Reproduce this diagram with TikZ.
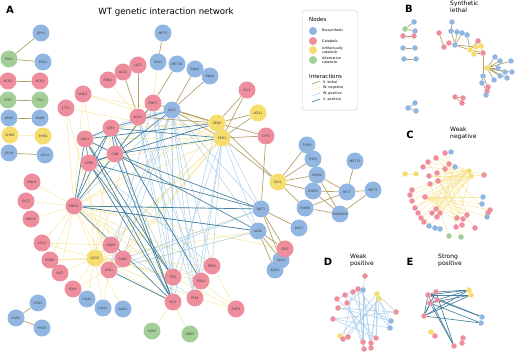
\documentclass[tikz,border=0pt]{standalone}
\usepackage{fontspec}
\setmainfont{DejaVu Sans}
\usetikzlibrary{backgrounds}

\definecolor{bioblue}{RGB}{146,182,226}
\definecolor{catred}{RGB}{238,142,156}
\definecolor{artyellow}{RGB}{246,221,110}
\definecolor{altgreen}{RGB}{164,206,152}
\definecolor{lethalc}{RGB}{172,152,92}
\definecolor{wnegc}{RGB}{246,226,140}
\definecolor{wposc}{RGB}{160,200,232}
\definecolor{sposc}{RGB}{48,112,146}

\tikzset{
  gene/.style={circle,inner sep=0pt,minimum size=17pt,text=black!75,
               font=\fontsize{3.2}{3.2}\selectfont},
  bio/.style={gene,fill=bioblue},
  cat/.style={gene,fill=catred},
  art/.style={gene,fill=artyellow},
  alt/.style={gene,fill=altgreen},
  dot/.style={circle,inner sep=0pt,minimum size=5.5pt},
  bdot/.style={dot,fill=bioblue},
  rdot/.style={dot,fill=catred},
  ydot/.style={dot,fill=artyellow},
  gdot/.style={dot,fill=altgreen},
  slethal/.style={draw=lethalc,line width=0.7pt,draw opacity=0.9},
  wneg/.style={draw=wnegc,line width=0.5pt,draw opacity=0.85},
  wpos/.style={draw=wposc,line width=0.5pt,draw opacity=0.85},
  spos/.style={draw=sposc,line width=0.7pt,draw opacity=0.85},
  panel/.style={font=\fontsize{10}{10}\selectfont\bfseries},
  subtitle/.style={anchor=north west,align=left,inner sep=0pt,
                   font=\fontsize{6}{7}\selectfont},
  legtext/.style={anchor=west,align=left,inner sep=0pt,
                  font=\fontsize{3.4}{3.8}\selectfont},
  legtitle/.style={anchor=west,inner sep=0pt,font=\fontsize{5.5}{5.5}\selectfont}
}

\begin{document}
\begin{tikzpicture}[x=1pt,y=-1pt]
\useasboundingbox (0,0) rectangle (520,352);

% panel A
\node[panel] (labA) at (10,10) {A};
\node[font=\fontsize{8.6}{8.6}\selectfont] (title) at (166,12) {WT genetic interaction network};

% biosynthetic
\node[bio] (ATH1) at (41,33) {ATH1};
\node[bio] (PSD2) at (43,62) {PSD2};
\node[bio] (ARO9) at (9,118) {ARO9};
\node[bio] (ARO8) at (40,118) {ARO8};
\node[bio] (LEU9) at (9,153) {LEU9};
\node[bio] (LEU4) at (45,155) {LEU4};
\node[bio] (MET5) at (163,33) {MET5};
\node[bio] (APA1) at (158,62) {APA1};
\node[bio] (MET10) at (177,64) {MET10};
\node[bio] (BNA2) at (195,69) {BNA2};
\node[bio] (BNA4) at (210,76) {BNA4};
\node[bio] (ALT2) at (172,110) {ALT2};
\node[bio] (THR4) at (307,145) {THR4};
\node[bio] (THR1) at (313,159) {THR1};
\node[bio] (HOM2) at (317,175) {HOM2};
\node[bio] (HOM3) at (313,191) {HOM3};
\node[bio] (HOM6) at (305,208) {HOM6};
\node[bio] (MET17) at (355,161) {MET17};
\node[bio] (IRC7) at (347,192) {IRC7};
\node[bio] (YML) at (340,214) {YML082W};
\node[bio] (MET3) at (373,190) {MET3};
\node[bio] (BAT1) at (261,209) {BAT1};
\node[bio] (ALD6) at (258,231) {ALD6};
\node[bio] (BAT2) at (299,228) {BAT2};
\node[bio] (ALD4) at (281,260) {ALD4};
\node[bio] (ADH2) at (275,270) {ADH2};
\node[bio] (UGA2) at (87,299) {UGA2};
\node[bio] (UGA1) at (103,308) {UGA1};
\node[bio] (GAD1) at (123,309) {GAD1};
\node[bio] (PRO2) at (38,303) {PRO2};
\node[bio] (CAR2) at (16,318) {CAR2};
\node[bio] (PRO3) at (42,328) {PRO3};

% catabolic
\node[cat] (ACO2) at (8,81) {ACO2};
\node[cat] (ACO1) at (40,81) {ACO1};
\node[cat] (MAE1) at (83,94) {MAE1};
\node[cat] (CTT1) at (66,108) {CTT1};
\node[cat] (PDB1) at (108,80) {PDB1};
\node[cat] (ACS2) at (123,72) {ACS2};
\node[cat] (LAT1) at (138,65) {LAT1};
\node[cat] (PMP1) at (153,103) {PMP1};
\node[cat] (ACH1) at (138,117) {ACH1};
\node[cat] (ICL1) at (247,90) {ICL1};
\node[cat] (CYP1) at (266,136) {CYP1};
\node[cat] (COX) at (85,139) {COX1};
\node[cat] (IDP1) at (111,128) {IDP1};
\node[cat] (COB) at (115,154) {COB};
\node[cat] (ATP6) at (89,163) {ATP6};
\node[cat] (MDH1) at (32,182) {MDH1};
\node[cat] (DIC1) at (26,201) {DIC1};
\node[cat] (MDH2) at (31,219) {MDH2};
\node[cat] (MRH1) at (74,206) {MRH1};
\node[cat] (LSC2) at (42,243) {LSC2};
\node[cat] (PGM2) at (50,260) {PGM2};
\node[cat] (YAT1) at (60,273) {YAT1};
\node[cat] (IDH1) at (73,289) {IDH1};
\node[cat] (SDH3) at (111,245) {SDH3};
\node[cat] (FUM1) at (123,259) {FUM1};
\node[cat] (LPD1) at (109,270) {LPD1};
\node[cat] (PGI1) at (173,302) {PGI1};
\node[cat] (TPI1) at (173,277) {TPI1};
\node[cat] (FBA1) at (201,281) {FBA1};
\node[cat] (PFK1) at (195,298) {PFK1};
\node[cat] (RPE1) at (212,266) {RPE1};
\node[cat] (ZWF1) at (236,309) {ZWF1};
\node[cat] (IDP2) at (285,249) {IDP2};

% artifactually catabolic
\node[art] (SHM2) at (10,135) {SHM2};
\node[art] (SHM1) at (43,136) {SHM1};
\node[art] (AGX1) at (258,113) {AGX1};
\node[art] (SER2) at (217,123) {SER2};
\node[art] (SER1) at (222,138) {SER1};
\node[art] (GLY1) at (278,182) {GLY1};
\node[art] (GCV3) at (95,258) {GCV3};

% alternative catabolic
\node[alt] (PSD1) at (9,59) {PSD1};
\node[alt] (TPS3) at (8,100) {TPS3};
\node[alt] (TSL1) at (40,100) {TSL1};
\node[alt] (SOR1) at (152,331) {SOR1};
\node[alt] (GRE3) at (190,334) {GRE3};

% legend
\node[draw=gray!45,rounded corners=3pt,minimum width=55pt,minimum height=100pt,
      anchor=north west] (legbox) at (302,10) {};
\node[legtitle] (legnodes) at (309,19) {Nodes};
\node[bio,minimum size=8pt] (legbio) at (313,31) {};
\node[cat,minimum size=8pt] (legcat) at (313,41) {};
\node[art,minimum size=8pt] (legart) at (313,50) {};
\node[alt,minimum size=8pt] (legalt) at (313,60) {};
\node[legtext] (txtbio) at (322,31) {Biosynthetic};
\node[legtext] (txtcat) at (322,41) {Catabolic};
\node[legtext] (txtart) at (322,50) {Artifactually\\catabolic};
\node[legtext] (txtalt) at (322,60) {Alternative\\catabolic};
\node[legtitle] (leginter) at (309,76) {Interactions};
\coordinate (l1a) at (312,84); \coordinate (l1b) at (320,81);
\coordinate (l2a) at (312,90); \coordinate (l2b) at (320,87);
\coordinate (l3a) at (312,96); \coordinate (l3b) at (320,93);
\coordinate (l4a) at (312,102); \coordinate (l4b) at (320,99);
\draw[slethal] (l1a) -- (l1b);
\draw[wneg] (l2a) -- (l2b);
\draw[wpos] (l3a) -- (l3b);
\draw[spos] (l4a) -- (l4b);
\node[legtext] (txtsl) at (323,82) {S. lethal};
\node[legtext] (txtwn) at (323,88) {W. negative};
\node[legtext] (txtwp) at (323,94) {W. positive};
\node[legtext] (txtsp) at (323,100) {S. positive};

% panel B
\node[panel] (labB) at (409,9) {B};
\node[subtitle] (subB) at (450,1) {Synthetic\\lethal};
\node[bdot] (b1) at (414,22) {};
\node[gdot] (b2) at (405,29) {};
\node[bdot] (b3) at (415,31) {};
\node[rdot] (b4) at (403,36) {};
\node[rdot] (b5) at (414,36) {};
\node[bdot] (b6) at (403,48) {};
\node[bdot] (b7) at (415,48) {};
\node[bdot] (b8) at (404,59) {};
\node[bdot] (b9) at (416,59) {};
\node[bdot] (b10) at (415,103) {};
\node[bdot] (b11) at (408,108) {};
\node[bdot] (b12) at (416,111) {};
\node[bdot] (b13) at (452,22) {};
\node[bdot] (b14) at (451,31) {};
\node[bdot] (b15) at (457,32) {};
\node[bdot] (b16) at (462,33) {};
\node[bdot] (b17) at (467,35) {};
\node[rdot] (b18) at (439,33) {};
\node[rdot] (b19) at (444,47) {};
\node[rdot] (b20) at (449,43) {};
\node[bdot] (b21) at (455,45) {};
\node[ydot] (b22) at (470,50) {};
\node[ydot] (b23) at (476,47) {};
\node[ydot] (b24) at (481,46) {};
\node[ydot] (b25) at (474,54) {};
\node[rdot] (b26) at (478,41) {};
\node[rdot] (b27) at (483,53) {};
\node[bdot] (b28) at (483,76) {};
\node[ydot] (b29) at (487,68) {};
\node[bdot] (b30) at (495,57) {};
\node[bdot] (b31) at (500,61) {};
\node[bdot] (b32) at (511,61) {};
\node[bdot] (b33) at (498,68) {};
\node[bdot] (b34) at (505,72) {};
\node[bdot] (b35) at (512,72) {};
\node[bdot] (b36) at (500,76) {};
\node[bdot] (b37) at (507,78) {};
\node[bdot] (b38) at (494,80) {};
\node[bdot] (b39) at (482,83) {};
\node[rdot] (b40) at (488,87) {};
\node[rdot] (b41) at (487,91) {};
\node[bdot] (b42) at (486,95) {};
\node[rdot] (b43) at (455,97) {};
\node[rdot] (b44) at (463,98) {};
\node[rdot] (b45) at (462,103) {};

% panel C
\node[panel] (labC) at (410,135) {C};
\node[subtitle] (subC) at (450,127) {Weak\\negative};
\node[rdot] (c1) at (445,153) {};
\node[bdot] (c2) at (451,152) {};
\node[rdot] (c3) at (436,158) {};
\node[rdot] (c4) at (449,164) {};
\node[rdot] (c5) at (428,162) {};
\node[rdot] (c6) at (445,169) {};
\node[bdot] (c7) at (455,167) {};
\node[rdot] (c8) at (423,167) {};
\node[ydot] (c9) at (405,174) {};
\node[ydot] (c10) at (416,174) {};
\node[rdot] (c11) at (437,173) {};
\node[rdot] (c12) at (429,176) {};
\node[rdot] (c13) at (438,181) {};
\node[rdot] (c14) at (430,184) {};
\node[ydot] (c15) at (469,171) {};
\node[ydot] (c16) at (471,176) {};
\node[rdot] (c17) at (484,175) {};
\node[rdot] (c18) at (412,190) {};
\node[rdot] (c19) at (410,195) {};
\node[rdot] (c20) at (412,201) {};
\node[rdot] (c21) at (425,197) {};
\node[bdot] (c22) at (483,197) {};
\node[bdot] (c23) at (482,204) {};
\node[rdot] (c24) at (490,210) {};
\node[rdot] (c25) at (488,213) {};
\node[bdot] (c26) at (487,217) {};
\node[rdot] (c27) at (415,208) {};
\node[rdot] (c28) at (418,213) {};
\node[rdot] (c29) at (421,218) {};
\node[rdot] (c30) at (424,222) {};
\node[bdot] (c31) at (429,226) {};
\node[bdot] (c32) at (435,228) {};
\node[bdot] (c33) at (440,229) {};
\node[rdot] (c34) at (432,213) {};
\node[rdot] (c35) at (437,217) {};
\node[rdot] (c36) at (436,209) {};
\node[rdot] (c37) at (440,213) {};
\node[rdot] (c38) at (467,215) {};
\node[rdot] (c39) at (463,219) {};
\node[rdot] (c40) at (457,218) {};
\node[rdot] (c41) at (462,225) {};
\node[rdot] (c42) at (456,227) {};
\node[rdot] (c43) at (475,228) {};
\node[gdot] (c44) at (449,236) {};
\node[gdot] (c45) at (461,237) {};

% panel D
\node[panel] (labD) at (328,262) {D};
\node[subtitle] (subD) at (350,254) {Weak\\positive};
\node[rdot] (d1) at (365,276) {};
\node[rdot] (d2) at (345,295) {};
\node[rdot] (d3) at (353,292) {};
\node[rdot] (d4) at (358,289) {};
\node[bdot] (d5) at (363,290) {};
\node[ydot] (d6) at (377,294) {};
\node[ydot] (d7) at (379,299) {};
\node[rdot] (d8) at (337,299) {};
\node[rdot] (d9) at (347,303) {};
\node[rdot] (d10) at (338,308) {};
\node[rdot] (d11) at (333,319) {};
\node[rdot] (d12) at (396,312) {};
\node[bdot] (d13) at (391,321) {};
\node[bdot] (d14) at (390,328) {};
\node[ydot] (d15) at (340,336) {};
\node[rdot] (d16) at (343,339) {};
\node[rdot] (d17) at (348,337) {};
\node[rdot] (d18) at (363,342) {};
\node[rdot] (d19) at (371,343) {};
\node[rdot] (d20) at (376,338) {};
\node[rdot] (d21) at (371,348) {};
\node[rdot] (d22) at (364,349) {};

% panel E
\node[panel] (labE) at (410,262) {E};
\node[subtitle] (subE) at (438,254) {Strong\\positive};
\node[rdot] (e1) at (428,295) {};
\node[rdot] (e2) at (436,292) {};
\node[rdot] (e3) at (430,303) {};
\node[rdot] (e4) at (437,300) {};
\node[rdot] (e5) at (424,316) {};
\node[ydot] (e6) at (469,290) {};
\node[ydot] (e7) at (471,295) {};
\node[bdot] (e8) at (482,317) {};
\node[bdot] (e9) at (481,323) {};
\node[ydot] (e10) at (431,332) {};
\node[rdot] (e11) at (435,336) {};
\node[rdot] (e12) at (463,338) {};
\node[rdot] (e13) at (462,343) {};
\node[rdot] (e14) at (454,346) {};

\begin{scope}[on background layer]
% weak negative
\path[wneg] (SHM2) edge (SHM1) (APA1) edge (PMP1) (PDB1) edge (ACH1)
  (MRH1) edge (MDH1) (MRH1) edge (DIC1) (MRH1) edge (MDH2) (MRH1) edge (LSC2)
  (MRH1) edge (PGM2) (MRH1) edge (YAT1) (MRH1) edge (CTT1) (MRH1) edge (MAE1)
  (MRH1) edge (SDH3) (MRH1) edge (GCV3) (MRH1) edge (FUM1) (MRH1) edge (LPD1)
  (MRH1) edge (TPI1) (MRH1) edge (FBA1) (MRH1) edge (RPE1) (MRH1) edge (SER1)
  (MRH1) edge (SER2) (MRH1) edge (IDP2) (MRH1) edge (PMP1)
  (GCV3) edge (LSC2) (GCV3) edge (PGM2) (GCV3) edge (YAT1) (GCV3) edge (IDH1)
  (GCV3) edge (UGA2) (GCV3) edge (UGA1) (GCV3) edge (GAD1) (GCV3) edge (SDH3)
  (GCV3) edge (FUM1) (GCV3) edge (PGI1) (GCV3) edge (TPI1) (GCV3) edge (PFK1)
  (GCV3) edge (FBA1) (GCV3) edge (RPE1) (GCV3) edge (ALD6) (GCV3) edge (SER1)
  (GCV3) edge (COX) (GCV3) edge (IDP1) (GCV3) edge (ACH1)
  (SER1) edge (COX) (SER1) edge (ATP6) (SER1) edge (MAE1) (SER1) edge (CTT1)
  (SER1) edge (SDH3) (SER1) edge (FUM1) (SER1) edge (LPD1) (SER2) edge (IDP1)
  (SER2) edge (MAE1) (SER2) edge (LPD1)
  (PGI1) edge (SOR1) (PGI1) edge (GRE3) (ZWF1) edge (RPE1) (ZWF1) edge (FBA1)
  (ZWF1) edge (PFK1) (ZWF1) edge (TPI1) (RPE1) edge (TPI1) (LPD1) edge (IDH1)
  (LPD1) edge (UGA1) (SDH3) edge (LSC2) (FUM1) edge (PGM2) (ALD6) edge (LPD1)
  (BAT1) edge (FUM1) (CTT1) edge (LPD1) (MAE1) edge (SDH3);
% weak positive
\path[wpos] (ALT2) edge (TPI1) (ALT2) edge (FBA1) (ALT2) edge (PFK1)
  (ALT2) edge (PGI1) (ALT2) edge (RPE1) (ALT2) edge (BAT1) (ALT2) edge (ALD6)
  (ALT2) edge (ACH1) (ALT2) edge (SDH3) (ALT2) edge (FUM1) (ALT2) edge (LPD1)
  (PMP1) edge (TPI1) (PMP1) edge (FBA1) (PMP1) edge (PFK1) (PMP1) edge (PGI1)
  (PMP1) edge (LPD1) (ACH1) edge (TPI1) (ACH1) edge (FBA1) (ACH1) edge (PFK1)
  (ACH1) edge (PGI1) (ACH1) edge (IDP1) (SER1) edge (RPE1) (SER1) edge (FBA1)
  (SER1) edge (PFK1) (SER1) edge (TPI1) (SER2) edge (PGI1) (SER2) edge (BAT1)
  (SER2) edge (ALD6) (LPD1) edge (BAT1) (LPD1) edge (ALD6) (COB) edge (TPI1)
  (IDP1) edge (FBA1) (MRH1) edge (ALD6) (MRH1) edge (BAT1) (MRH1) edge (ALT2)
  (COX) edge (ALT2) (ATP6) edge (RPE1) (FUM1) edge (BAT1) (SDH3) edge (PFK1);
% synthetic lethal
\path[slethal] (ATH1) edge (PSD1) (PSD1) edge (PSD2) (ACO2) edge (ACO1)
  (TPS3) edge (TSL1) (ARO9) edge (ARO8) (LEU9) edge (LEU4) (CAR2) edge (PRO2)
  (CAR2) edge (PRO3) (MET5) edge (APA1) (MET10) edge (PMP1) (BNA2) edge (ALT2)
  (BNA4) edge (ALT2) (LAT1) edge (ACH1) (ACS2) edge (ACH1) (ICL1) edge (SER2)
  (AGX1) edge (SER2) (AGX1) edge (SER1) (ICL1) edge (SER1) (CYP1) edge (SER1)
  (ALT2) edge (SER2) (PMP1) edge (SER2) (ACH1) edge (SER2) (ALT2) edge (SER1)
  (GLY1) edge (THR4) (GLY1) edge (THR1) (GLY1) edge (HOM2) (GLY1) edge (HOM3)
  (GLY1) edge (HOM6) (GLY1) edge (SER1) (GLY1) edge (SER2) (CYP1) edge (BAT1)
  (BAT1) edge (BAT2) (BAT1) edge (IDP2) (ALD6) edge (IDP2) (ALD6) edge (ALD4)
  (ALD6) edge (ADH2) (BAT1) edge (ALD4) (HOM2) edge (IRC7) (HOM2) edge (YML)
  (HOM3) edge (IRC7) (HOM3) edge (YML) (HOM6) edge (IRC7) (HOM6) edge (YML)
  (MET17) edge (IRC7) (MET3) edge (YML) (MET3) edge (IRC7) (SER2) edge (CYP1);
% strong positive
\path[spos] (COX) edge (IDP1) (COX) edge (COB) (COX) edge (ATP6)
  (ATP6) edge (COB) (IDP1) edge (COB) (IDP1) edge (ATP6) (MRH1) edge (COX)
  (MRH1) edge (ATP6) (MRH1) edge (COB) (MRH1) edge (IDP1) (PGI1) edge (COX)
  (PGI1) edge (ATP6) (PGI1) edge (COB) (PGI1) edge (IDP1) (PGI1) edge (MRH1)
  (PGI1) edge (LPD1) (BAT1) edge (ATP6) (BAT1) edge (COB) (BAT1) edge (MRH1)
  (ALD6) edge (COB) (ALD6) edge (MRH1) (SER2) edge (ATP6) (SER2) edge (COX)
  (SER1) edge (COB) (SER1) edge (IDP1) (TPI1) edge (COX) (TPI1) edge (ATP6)
  (FBA1) edge (IDP1) (ALT2) edge (COB) (ALT2) edge (IDP1) (PMP1) edge (COB);

% panel B edges
\path[slethal] (b2) edge (b1) (b2) edge (b3) (b4) edge (b5) (b6) edge (b7)
  (b8) edge (b9) (b11) edge (b10) (b11) edge (b12) (b13) edge (b14)
  (b14) edge (b21) (b15) edge (b21) (b16) edge (b21) (b17) edge (b22)
  (b18) edge (b19) (b20) edge (b21) (b21) edge (b22) (b21) edge (b23)
  (b22) edge (b26) (b23) edge (b26) (b24) edge (b27) (b25) edge (b27)
  (b22) edge (b27) (b27) edge (b28) (b29) edge (b30) (b29) edge (b31)
  (b29) edge (b32) (b29) edge (b33) (b29) edge (b34) (b29) edge (b35)
  (b29) edge (b36) (b29) edge (b37) (b29) edge (b38) (b28) edge (b39)
  (b28) edge (b40) (b39) edge (b41) (b40) edge (b42) (b43) edge (b44)
  (b43) edge (b45);

% panel C edges
\path[wneg] (c9) edge (c10) (c15) edge (c3) (c15) edge (c5) (c15) edge (c8)
  (c15) edge (c11) (c15) edge (c12) (c15) edge (c13) (c15) edge (c14)
  (c15) edge (c18) (c15) edge (c19) (c15) edge (c20) (c15) edge (c27)
  (c15) edge (c28) (c15) edge (c29) (c15) edge (c34) (c15) edge (c36)
  (c15) edge (c17) (c16) edge (c12) (c16) edge (c14) (c16) edge (c21)
  (c16) edge (c27) (c16) edge (c30) (c16) edge (c35) (c16) edge (c37)
  (c16) edge (c40) (c16) edge (c31) (c16) edge (c17) (c21) edge (c22)
  (c21) edge (c23) (c21) edge (c24) (c21) edge (c38) (c21) edge (c39)
  (c21) edge (c41) (c21) edge (c26) (c4) edge (c40) (c6) edge (c42)
  (c1) edge (c38) (c13) edge (c43) (c11) edge (c45) (c14) edge (c44)
  (c2) edge (c36) (c7) edge (c35) (c3) edge (c25) (c5) edge (c39);

% panel D edges
\path[wpos] (d1) edge (d5) (d5) edge (d18) (d5) edge (d19) (d5) edge (d22)
  (d5) edge (d21) (d4) edge (d18) (d4) edge (d22) (d3) edge (d19)
  (d6) edge (d19) (d6) edge (d20) (d6) edge (d21) (d7) edge (d20)
  (d7) edge (d13) (d7) edge (d14) (d7) edge (d16) (d6) edge (d12)
  (d2) edge (d18) (d8) edge (d20) (d9) edge (d22) (d10) edge (d13)
  (d11) edge (d14) (d11) edge (d20) (d15) edge (d6) (d17) edge (d7)
  (d2) edge (d13) (d4) edge (d14) (d3) edge (d16) (d9) edge (d5)
  (d8) edge (d4) (d10) edge (d12) (d11) edge (d12);

% panel E edges
\path[spos] (e1) edge (e6) (e2) edge (e6) (e1) edge (e7) (e3) edge (e7)
  (e4) edge (e6) (e1) edge (e8) (e3) edge (e9) (e4) edge (e8) (e5) edge (e6)
  (e5) edge (e7) (e2) edge (e14) (e1) edge (e14) (e5) edge (e1) (e5) edge (e3)
  (e5) edge (e2) (e3) edge (e4) (e1) edge (e2) (e5) edge (e9) (e3) edge (e14)
  (e10) edge (e11);
\end{scope}

\end{tikzpicture}
\end{document}
